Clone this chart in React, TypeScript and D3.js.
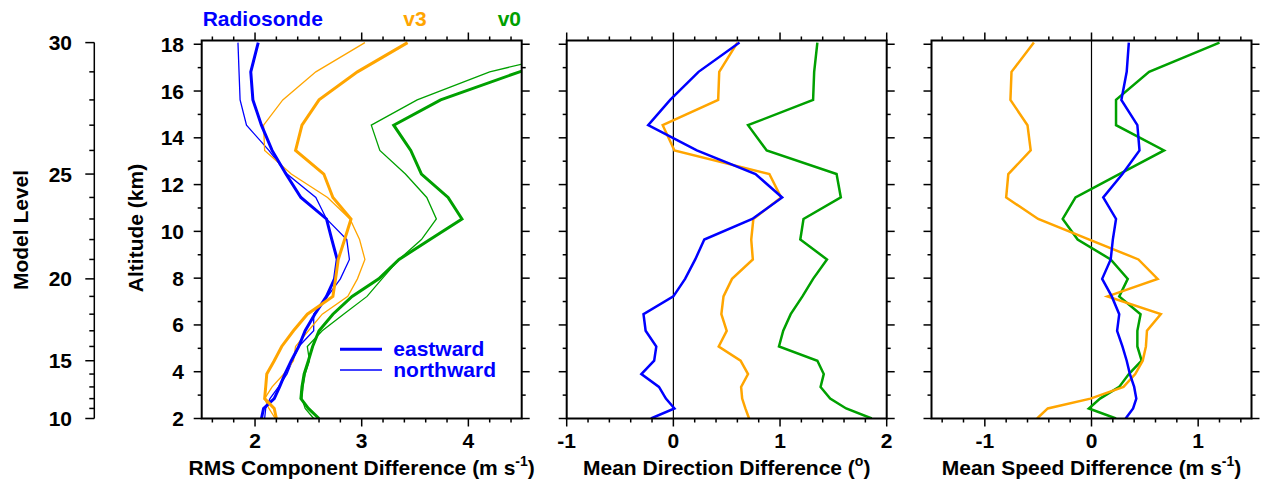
import React from "react";
import * as d3 from "d3";

// Model levels 10..30 and their altitudes (km)
const modelLevels = [10, 11, 12, 13, 14, 15, 16, 17, 18, 19, 20, 21, 22, 23, 24, 25, 26, 27, 28, 29, 30];
const levelAltitude = [2.0, 2.43, 2.85, 3.35, 3.9, 4.47, 5.08, 5.75, 6.46, 7.22, 7.97, 8.8, 9.65, 10.53, 11.45, 12.45, 13.46, 14.54, 15.62, 16.82, 18.07];
const modelLevelLabels = [10, 15, 20, 25, 30];

// Panel 1: RMS component difference (m/s)
const rmsRadiosondeEast = [2.06, 2.08, 2.18, 2.23, 2.28, 2.34, 2.41, 2.47, 2.56, 2.67, 2.745, 2.77, 2.72, 2.67, 2.43, 2.29, 2.16, 2.06, 1.98, 1.96, 2.03];
const rmsRadiosondeNorth = [2.09, 2.1, 2.14, 2.22, 2.3, 2.35, 2.41, 2.55, 2.55, 2.68, 2.8, 2.885, 2.86, 2.67, 2.57, 2.3, 2.13, 1.92, 1.86, 1.85, 1.84];
const rmsV3East = [2.2, 2.18, 2.09, 2.1, 2.11, 2.18, 2.25, 2.36, 2.49, 2.73, 2.755, 2.78, 2.84, 2.9, 2.73, 2.645, 2.38, 2.44, 2.6, 2.96, 3.43];
const rmsV3North = [2.19, 2.13, 2.09, 2.16, 2.27, 2.36, 2.38, 2.5, 2.63, 2.87, 2.96, 3.03, 2.98, 2.89, 2.68, 2.34, 2.09, 2.08, 2.26, 2.57, 3.03];
const rmsV0East = [2.6, 2.5, 2.43, 2.44, 2.46, 2.5, 2.54, 2.6, 2.73, 2.91, 3.16, 3.35, 3.64, 3.94, 3.81, 3.56, 3.46, 3.3, 3.74, 4.48, 5.4];
const rmsV0North = [2.55, 2.47, 2.44, 2.45, 2.47, 2.51, 2.49, 2.63, 2.83, 3.05, 3.19, 3.35, 3.56, 3.7, 3.61, 3.41, 3.17, 3.09, 3.52, 4.2, 5.34];

// Panel 2: mean direction difference (deg)
const dirRadiosonde = [-0.21, 0.01, -0.07, -0.135, -0.3, -0.18, -0.16, -0.26, -0.28, 0.0, 0.11, 0.205, 0.29, 0.74, 1.02, 0.77, 0.22, -0.236, -0.03, 0.236, 0.62];
const dirV3 = [0.71, 0.675, 0.645, 0.635, 0.7, 0.63, 0.425, 0.5, 0.45, 0.47, 0.55, 0.745, 0.73, 0.75, 1.01, 0.9, 0.01, -0.1, 0.42, 0.43, 0.6];
const dirV0 = [1.86, 1.62, 1.47, 1.38, 1.41, 1.35, 0.99, 1.03, 1.1, 1.21, 1.31, 1.44, 1.19, 1.22, 1.57, 1.53, 0.875, 0.7, 1.31, 1.32, 1.35];

// Panel 3: mean speed difference (m/s)
const spdRadiosonde = [0.32, 0.39, 0.42, 0.4, 0.36, 0.33, 0.29, 0.24, 0.26, 0.19, 0.1, 0.18, 0.2, 0.23, 0.11, 0.29, 0.45, 0.43, 0.28, 0.33, 0.35];
const spdV3 = [-0.51, -0.41, -0.01, 0.3, 0.41, 0.48, 0.51, 0.52, 0.65, 0.15, 0.62, 0.44, -0.02, -0.5, -0.8, -0.78, -0.57, -0.6, -0.76, -0.75, -0.54];
const spdV0 = [0.23, -0.025, 0.08, 0.26, 0.35, 0.47, 0.43, 0.43, 0.46, 0.26, 0.34, 0.18, -0.13, -0.27, -0.15, 0.26, 0.68, 0.23, 0.23, 0.54, 1.2];

const altTicks = [2, 4, 6, 8, 10, 12, 14, 16, 18];
const rmsTicks = [2, 3, 4];
const dirTicks = [-1, 0, 1, 2];
const spdTicks = [-1, 0, 1];

const BLUE = "#0000ff";
const ORANGE = "#ffa500";
const GREEN = "#00a000";
const FONT = "'Liberation Sans', Arial, Helvetica, sans-serif";
const FS = 21;

const TOP = 40.5;
const BOTTOM = 418.5;
const PW = 320;

const yScale = d3.scaleLinear().domain([2, 18.16]).range([BOTTOM, TOP]);

type Series = { values: number[]; color: string; width: number };

type PanelProps = {
  id: string;
  x0: number;
  domain: [number, number];
  majorTicks: number[];
  series: Series[];
  zeroLine?: boolean;
  yLabels?: boolean;
  title: React.ReactNode;
  children?: React.ReactNode;
};

function Panel({ id, x0, domain, majorTicks, series, zeroLine, yLabels, title, children }: PanelProps) {
  const x = d3.scaleLinear().domain(domain).range([x0, x0 + PW]);
  const minor = d3.range(Math.ceil(domain[0] / 0.2 - 1e-6), Math.floor(domain[1] / 0.2 + 1e-6) + 1).map((k) => k * 0.2);
  const yMinor = d3.range(2, 19, 1);
  const line = d3
    .line<number>()
    .x((v) => x(v))
    .y((_, i) => yScale(levelAltitude[i]));
  const isMajorX = (v: number) => majorTicks.some((m) => Math.abs(m - v) < 1e-6);
  const isMajorY = (v: number) => altTicks.includes(v);
  const x1 = x0 + PW;
  return (
    <g>
      <defs>
        <clipPath id={id}>
          <rect x={x0} y={TOP} width={PW} height={BOTTOM - TOP} />
        </clipPath>
      </defs>
      {zeroLine && <line x1={x(0)} x2={x(0)} y1={TOP} y2={BOTTOM} stroke="#000" strokeWidth={1.2} />}
      <g clipPath={`url(#${id})`}>
        {series.map((s, i) => (
          <path key={i} d={line(s.values) || ""} fill="none" stroke={s.color} strokeWidth={s.width} strokeLinejoin="miter" />
        ))}
      </g>
      {/* x ticks top & bottom */}
      {minor.map((v, i) => {
        const len = isMajorX(v) ? 8 : 4;
        return (
          <g key={"xt" + i} stroke="#000" strokeWidth={1.5}>
            <line x1={x(v)} x2={x(v)} y1={BOTTOM} y2={BOTTOM + len} />
            <line x1={x(v)} x2={x(v)} y1={TOP} y2={TOP - len} />
          </g>
        );
      })}
      {/* y ticks left & right */}
      {yMinor.map((v, i) => {
        const len = isMajorY(v) ? 8 : 4;
        return (
          <g key={"yt" + i} stroke="#000" strokeWidth={1.5}>
            <line x1={x0} x2={x0 - len} y1={yScale(v)} y2={yScale(v)} />
            <line x1={x1} x2={x1 + len} y1={yScale(v)} y2={yScale(v)} />
          </g>
        );
      })}
      <rect x={x0} y={TOP} width={PW} height={BOTTOM - TOP} fill="none" stroke="#000" strokeWidth={2} />
      {majorTicks.map((v, i) => (
        <text key={"xl" + i} x={x(v)} y={447.5} textAnchor="middle" fontFamily={FONT} fontWeight="bold" fontSize={FS}>
          {v < 0 ? "-" + Math.abs(v) : String(v)}
        </text>
      ))}
      {yLabels &&
        altTicks.map((v, i) => (
          <text key={"yl" + i} x={184} y={yScale(v) + 7.5} textAnchor="end" fontFamily={FONT} fontWeight="bold" fontSize={FS}>
            {v}
          </text>
        ))}
      <text x={x0 + PW / 2} y={475} textAnchor="middle" fontFamily={FONT} fontWeight="bold" fontSize={FS}>
        {title}
      </text>
      {children}
    </g>
  );
}

export default function App() {
  const levelY = (lv: number) => yScale(levelAltitude[modelLevels.indexOf(lv)]);
  const axisX = 94.3;
  return (
    <svg width={1261} height={483} style={{ position: "absolute", left: 0, top: 0, background: "#fff" }}>
      <rect x={0} y={0} width={1261} height={483} fill="#fff" />
      {/* Model level axis */}
      <line x1={axisX} x2={axisX} y1={levelY(30)} y2={levelY(10)} stroke="#000" strokeWidth={1.5} />
      {modelLevels.map((lv) => {
        const major = modelLevelLabels.includes(lv);
        return (
          <line key={"ml" + lv} x1={axisX} x2={axisX - (major ? 9 : 5)} y1={levelY(lv)} y2={levelY(lv)} stroke="#000" strokeWidth={1.5} />
        );
      })}
      {modelLevelLabels.map((lv) => (
        <text key={"mll" + lv} x={72} y={levelY(lv) + 7.5} textAnchor="end" fontFamily={FONT} fontWeight="bold" fontSize={FS}>
          {lv}
        </text>
      ))}
      <text transform="translate(28,230) rotate(-90)" textAnchor="middle" fontFamily={FONT} fontWeight="bold" fontSize={FS}>
        Model Level
      </text>
      <text transform="translate(143,228) rotate(-90)" textAnchor="middle" fontFamily={FONT} fontWeight="bold" fontSize={FS}>
        Altitude (km)
      </text>

      {/* header labels */}
      <text x={202.7} y={26} fontFamily={FONT} fontWeight="bold" fontSize={FS} fill={BLUE}>
        Radiosonde
      </text>
      <text x={403.3} y={26} fontFamily={FONT} fontWeight="bold" fontSize={FS} fill={ORANGE}>
        v3
      </text>
      <text x={521} y={26} textAnchor="end" fontFamily={FONT} fontWeight="bold" fontSize={FS} fill={GREEN}>
        v0
      </text>

      <Panel
        id="clip1"
        x0={201.7}
        domain={[1.5, 4.5]}
        majorTicks={rmsTicks}
        yLabels
        series={[
          { values: rmsRadiosondeNorth, color: BLUE, width: 1.3 },
          { values: rmsV3North, color: ORANGE, width: 1.3 },
          { values: rmsV0North, color: GREEN, width: 1.3 },
          { values: rmsRadiosondeEast, color: BLUE, width: 3 },
          { values: rmsV3East, color: ORANGE, width: 3 },
          { values: rmsV0East, color: GREEN, width: 3 },
        ]}
        title={
          <>
            RMS Component Difference (m s
            <tspan fontSize={14} dy={-9}>-1</tspan>
            <tspan dy={9}>)</tspan>
          </>
        }
      >
        <line x1={340} x2={382} y1={349.3} y2={349.3} stroke={BLUE} strokeWidth={3} />
        <line x1={340} x2={382} y1={370} y2={370} stroke={BLUE} strokeWidth={1.3} />
        <text x={393.3} y={356} fontFamily={FONT} fontWeight="bold" fontSize={FS} fill={BLUE}>
          eastward
        </text>
        <text x={393.3} y={376.5} fontFamily={FONT} fontWeight="bold" fontSize={FS} fill={BLUE}>
          northward
        </text>
      </Panel>

      <Panel
        id="clip2"
        x0={566.7}
        domain={[-1, 2]}
        majorTicks={dirTicks}
        zeroLine
        series={[
          { values: dirV0, color: GREEN, width: 2.5 },
          { values: dirV3, color: ORANGE, width: 2.5 },
          { values: dirRadiosonde, color: BLUE, width: 2.5 },
        ]}
        title={
          <>
            Mean Direction Difference (
            <tspan fontSize={14} dy={-9}>o</tspan>
            <tspan dy={9}>)</tspan>
          </>
        }
      />

      <Panel
        id="clip3"
        x0={931.5}
        domain={[-1.5, 1.5]}
        majorTicks={spdTicks}
        zeroLine
        series={[
          { values: spdV0, color: GREEN, width: 2.5 },
          { values: spdV3, color: ORANGE, width: 2.5 },
          { values: spdRadiosonde, color: BLUE, width: 2.5 },
        ]}
        title={
          <>
            Mean Speed Difference (m s
            <tspan fontSize={14} dy={-9}>-1</tspan>
            <tspan dy={9}>)</tspan>
          </>
        }
      />
    </svg>
  );
}
